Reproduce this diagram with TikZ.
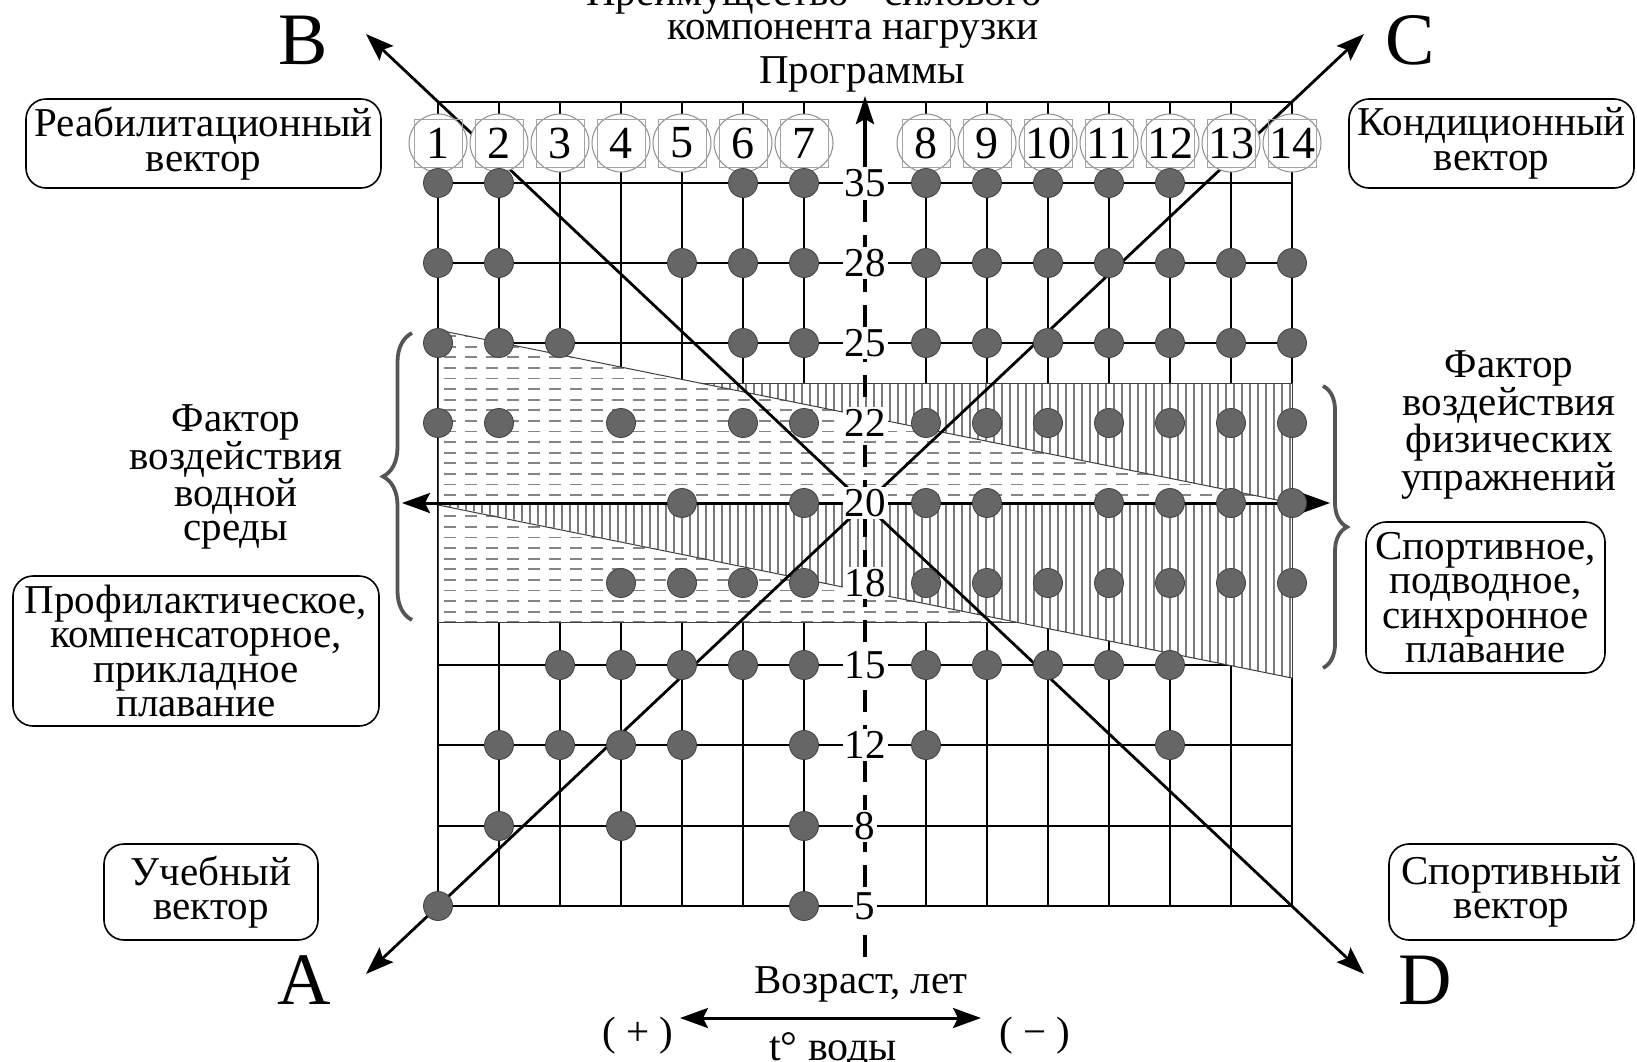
\documentclass[tikz,border=0pt]{standalone}
\usepackage{fontspec}
\setmainfont{Liberation Serif}
\usetikzlibrary{arrows.meta,decorations.pathreplacing}
\definecolor{dotfill}{HTML}{666666}
\definecolor{dotedge}{HTML}{404040}
\definecolor{ringgray}{HTML}{8C8C8C}
\definecolor{hatchgray}{HTML}{7A7A7A}
\definecolor{dashgray}{HTML}{858585}
\definecolor{bracegray}{HTML}{555555}
\newcommand\myfs[1]{\fontsize{#1}{34.5}\selectfont}
\begin{document}
\begin{tikzpicture}[x=1pt,y=-1pt,
  gridline/.style={line width=1.6pt,black},
  dotnode/.style={circle,fill=dotfill,draw=dotedge,line width=0.8pt,minimum size=29pt,inner sep=0pt},
  ring/.style={circle,draw=ringgray,fill=white,line width=1pt,minimum size=58pt,inner sep=0pt},
  sqbox/.style={draw=ringgray!80,line width=0.9pt,minimum size=48pt,inner sep=0pt},
  numtxt/.style={font=\myfs{46},inner sep=0pt},
  axlabel/.style={fill=white,inner sep=2pt,font=\myfs{41}},
  vbox/.style={draw,rounded corners=20pt,line width=1.6pt,align=center,font=\myfs{41},inner sep=2pt},
  plaintext/.style={align=center,font=\myfs{41},inner sep=0pt},
  bigletter/.style={font=\fontsize{74}{74}\selectfont,inner sep=0pt},
  thickarrow/.style={line width=3pt,{Stealth[length=28pt,width=20pt,inset=5pt]}-{Stealth[length=28pt,width=20pt,inset=5pt]}},
  diagarrow/.style={line width=2.8pt,{Stealth[length=28pt,width=20pt,inset=5pt]}-{Stealth[length=28pt,width=20pt,inset=5pt]}},
  brc/.style={bracegray,line width=3.8pt,decorate},
  regionline/.style={black!75,line width=1pt},
  dashrow/.style={dashgray,line width=1.8pt,dash pattern=on 12pt off 9pt},
  vhatch/.style={hatchgray,line width=1.3pt},
]
\useasboundingbox (0,0) rectangle (1637,1061);

% grid
\foreach \i in {1,...,14}{
  \pgfmathsetmacro\xx{\i<8 ? 438+61*(\i-1) : 438+61*\i}
  \draw[gridline] (\xx,102) -- (\xx,906);
}
\draw[gridline] (438,102) -- (1292,102);
\foreach \yy in {183,263,343,423,503,583,665,745,826,906}
  \draw[gridline] (438,\yy) -- (1292,\yy);

% water factor region (dashed) and exercise factor region (vertical hatch)
\fill[white] (438,330) -- (1292,503) -- (438,504) -- (1015.6,622) -- (438,622) -- cycle;
\fill[white] (699.6,383) -- (1292,383) -- (1292,503) -- cycle;
\fill[white] (438,504) -- (1292,503) -- (1292,678) -- cycle;
\begin{scope}
  \clip (438,330) -- (1292,503) -- (438,504) -- (1015.6,622) -- (438,622) -- cycle;
  \foreach \k in {0,...,27} \draw[dashrow] (444,{336+10.6*\k}) -- (1292,{336+10.6*\k});
\end{scope}
\begin{scope}
  \clip (699.6,383) -- (1292,383) -- (1292,503) -- cycle (438,504) -- (1292,503) -- (1292,678) -- cycle;
  \foreach \k in {0,...,106} \draw[vhatch] ({442+8*\k},380) -- ({442+8*\k},680);
\end{scope}
\draw[regionline] (438,330) -- (1292,503);
\draw[regionline] (438,505) -- (1292,678);
\draw[regionline] (699.6,383) -- (1292,383);
\draw[regionline] (438,622) -- (1015.6,622);
\draw[regionline] (438,330) -- (438,622);
\draw[regionline] (1292,383) -- (1292,678);

% horizontal axis
\coordinate (hl) at (402,503);
\coordinate (hr) at (1330,503);
\draw[thickarrow] (hl) -- (hr);

% diagonals
\coordinate (A) at (366,974);
\coordinate (C) at (1364,34);
\coordinate (B) at (366,34);
\coordinate (D) at (1364,974);
\draw[diagarrow] (A) -- (C);
\draw[diagarrow] (B) -- (D);

% numbered programme circles
\foreach \i in {1,...,14}{
  \pgfmathsetmacro\xx{\i<8 ? 438+61*(\i-1) : 438+61*\i}
  \node[ring] (r\i) at (\xx,143) {};
  \node[sqbox] (s\i) at (\xx,143) {};
  \node[numtxt] (n\i) at (\xx,143) {\i};
}

% vertical axis
\coordinate (vt) at (865,96);
\coordinate (vm) at (865,165);
\coordinate (vb) at (865,957);
\draw[line width=4pt,-{Stealth[length=28pt,width=18pt,inset=5pt]}] (vm) -- (vt);
\draw[line width=4pt,dash pattern=on 22pt off 13pt] (vm) -- (vb);

\foreach \yy/\lab in {183/35,263/28,343/25,423/22,503/20,583/18,665/15,745/12,826/8,906/5}
  \node[axlabel] (lab\lab) at (865,\yy) {\lab};

% dots
\foreach \yy/\lst in {183/{1,2,6,7,8,9,10,11,12},
                      263/{1,2,5,6,7,8,9,10,11,12,13,14},
                      343/{1,2,3,6,7,8,9,10,11,12,13,14},
                      423/{1,2,4,6,7,8,9,10,11,12,13,14},
                      503/{5,7,8,9,11,12,13,14},
                      583/{4,5,6,7,8,9,10,11,12,13,14},
                      665/{3,4,5,6,7,8,9,10,11,12},
                      745/{2,3,4,5,7,8,12},
                      826/{2,4,7},
                      906/{1,7}}{
  \foreach \i in \lst {
    \pgfmathsetmacro\xx{\i<8 ? 438+61*(\i-1) : 438+61*\i}
    \node[dotnode] (d\yy-\i) at (\xx,\yy) {};
  }
}

% title
\node[plaintext,anchor=base] (t1) at (823,5.5) {Преимущество \,“силового”};
\node[plaintext,anchor=base] (t2) at (853,39) {компонента нагрузки};
\node[plaintext,anchor=base] (prog) at (862,83) {Программы};

% corner letters
\node[bigletter] (LB) at (303,40) {B};
\node[bigletter] (LC) at (1410,40) {C};
\node[bigletter] (LA) at (304,980) {A};
\node[bigletter] (LD) at (1425,980) {D};

% boxes
\node[vbox,minimum width=355pt,minimum height=89pt] (reab) at (203.5,143.5) {Реабилитационный\\вектор};
\node[vbox,minimum width=285pt,minimum height=89pt] (kond) at (1491.5,143.5) {Кондиционный\\вектор};
\node[vbox,minimum width=366pt,minimum height=150pt] (prof) at (196,651) {Профилактическое,\\компенсаторное,\\прикладное\\плавание};
\node[vbox,minimum width=239pt,minimum height=151pt] (sport) at (1485.5,597.5) {Спортивное,\\подводное,\\синхронное\\плавание};
\node[vbox,minimum width=214pt,minimum height=96pt] (ucheb) at (211,892) {Учебный\\вектор};
\node[vbox,minimum width=245pt,minimum height=96pt] (sportv) at (1511.5,892) {Спортивный\\вектор};

% factor texts
\node[plaintext] (water) at (236,477) {Фактор\\воздействия\\водной\\среды};
\node[plaintext] (phys) at (1509,425) {Фактор\\воздействия\\физических\\упражнений};

% braces
\coordinate (lb1) at (412,620);
\coordinate (lb2) at (412,333);
\coordinate (rb1) at (1323,386);
\coordinate (rb2) at (1323,668);
\draw[brc,decoration={brace,amplitude=29pt}] (lb1) -- (lb2);
\draw[brc,decoration={brace,amplitude=24pt}] (rb1) -- (rb2);

% bottom
\node[font=\myfs{41},anchor=base,inner sep=0pt] (age) at (861,993) {Возраст, лет};
\coordinate (tl) at (680,1018);
\coordinate (tr) at (981,1018);
\draw[thickarrow] (tl) -- (tr);
\node[font=\myfs{41},anchor=base,inner sep=0pt] (plus) at (638,1045) {( + )};
\node[font=\myfs{41},anchor=base,inner sep=0pt] (minus) at (1035,1045) {( − )};
\node[font=\myfs{42},anchor=base,inner sep=0pt] (tw) at (833,1060) {t° воды};
\end{tikzpicture}
\end{document}
